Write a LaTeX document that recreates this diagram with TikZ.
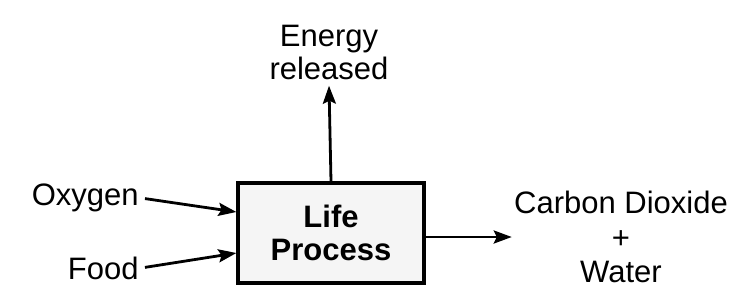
\documentclass[tikz,border=0pt]{standalone}
\usepackage{fontspec}
\setmainfont{Liberation Sans}
\usetikzlibrary{arrows.meta,positioning}
\tikzset{
  proc/.style={draw=black,fill=black!4,line width=1.6pt,minimum width=93pt,minimum height=50pt,
               align=center,font=\bfseries\fontsize{15.5}{16.5}\selectfont},
  io/.style={align=center,inner sep=1pt,font=\fontsize{15.5}{16.5}\selectfont},
  flow/.style={-{Stealth[length=9pt,width=6.5pt,inset=1.5pt]},line width=1.4pt},
}
\begin{document}
\begin{tikzpicture}[x=0.5pt,y=-0.5pt]
  \useasboundingbox (0,0) rectangle (740,296);
  \node[proc] (lp) at (331,233) {Life\\Process};
  \node[io,anchor=east] (oxy) at (141,198) {Oxygen};
  \node[io,anchor=east] (food) at (141,268) {Food};
  \node[io,inner sep=3pt] (en) at (329,52) {Energy\\released};
  \node[io,font=\fontsize{15.5}{17.3}\selectfont] (cd) at (621,237) {Carbon Dioxide\\+\\Water};
  \draw[flow,shorten <=2pt] (oxy.east) -- ([yshift=10.5pt]lp.west);
  \draw[flow,shorten <=2pt] (food.east) -- ([yshift=-10pt]lp.west);
  \draw[flow] (lp.north) -- (en.south);
  \draw[flow] (lp.east |- cd.west) -- (cd.west);
\end{tikzpicture}
\end{document}
